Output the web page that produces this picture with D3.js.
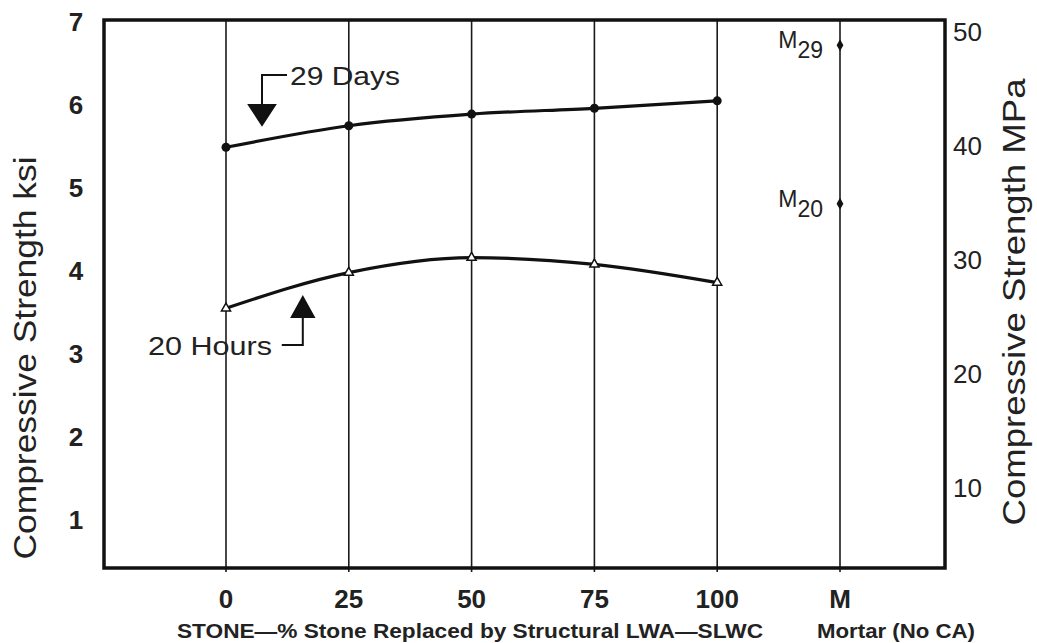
<!DOCTYPE html>
<html>
<head>
<meta charset="utf-8">
<script src="https://cdn.jsdelivr.net/npm/d3@7"></script>
<style>
  html, body { margin: 0; padding: 0; background: #fff; }
  svg { display: block; }
  text { font-family: "Liberation Sans", Arial, Helvetica, sans-serif; fill: #222; }
</style>
</head>
<body>
<svg id="chart" width="1037" height="643"></svg>
<script>
// ---- data ----
const categories = ["0", "25", "50", "75", "100", "M"];
const stoneCats = ["0", "25", "50", "75", "100"];
const days29 = [5.49, 5.75, 5.89, 5.96, 6.05];
const hours20 = [3.55, 3.98, 4.16, 4.08, 3.86];
const mortarLabels = ["29", "20"];
const mortarValues = [6.72, 4.81];
const ksiTicks = [1, 2, 3, 4, 5, 6, 7];
const mpaTicks = [10, 20, 30, 40, 50];

// ---- layout ----
const svg = d3.select("#chart");
const L = 104, R = 945, T = 20, B = 568;

const x = d3.scalePoint().domain(categories).range([L + 122, R - 105]);
const y = d3.scaleLinear().domain([0.42, 7.024]).range([B, T]);
const y2 = d3.scaleLinear().domain([2.98, 51.05]).range([B, T]);

// gridlines
svg.append("g").selectAll("line").data(categories).join("line")
  .attr("x1", d => x(d)).attr("x2", d => x(d))
  .attr("y1", T).attr("y2", B + 4)
  .attr("stroke", "#1a1a1a").attr("stroke-width", 1.6);

// frame
svg.append("rect").attr("x", L).attr("y", T).attr("width", R - L).attr("height", B - T)
  .attr("fill", "none").attr("stroke", "#111").attr("stroke-width", 3.5);

// left axis tick labels
svg.append("g").selectAll("text").data(ksiTicks).join("text")
  .attr("x", 76).attr("y", d => y(d)).attr("dy", "0.36em")
  .attr("text-anchor", "middle").attr("font-size", 26).attr("font-weight", "bold")
  .attr("fill", "#333").text(d => d);

// right axis tick labels
svg.append("g").selectAll("text").data(mpaTicks).join("text")
  .attr("x", 953).attr("y", d => y2(d)).attr("dy", "0.36em")
  .attr("text-anchor", "start").attr("font-size", 26)
  .attr("fill", "#333").text(d => d);

// bottom tick labels
svg.append("g").selectAll("text").data(categories).join("text")
  .attr("x", d => x(d)).attr("y", 608)
  .attr("text-anchor", "middle").attr("font-size", 26).attr("font-weight", "bold")
  .attr("fill", "#333").text(d => d);

// axis titles
svg.append("text")
  .attr("transform", `translate(36,358) rotate(-90)`)
  .attr("text-anchor", "middle").attr("font-size", 32).attr("fill", "#333")
  .attr("textLength", 403).attr("lengthAdjust", "spacingAndGlyphs")
  .text("Compressive Strength  ksi");
svg.append("text")
  .attr("transform", `translate(1025,302) rotate(-90)`)
  .attr("text-anchor", "middle").attr("font-size", 32).attr("fill", "#333")
  .attr("textLength", 447).attr("lengthAdjust", "spacingAndGlyphs")
  .text("Compressive Strength MPa");

svg.append("text").attr("x", 177).attr("y", 638)
  .attr("font-size", 20).attr("font-weight", "bold").attr("fill", "#333")
  .attr("textLength", 586).attr("lengthAdjust", "spacingAndGlyphs")
  .text("STONE\u2014% Stone Replaced by Structural LWA\u2014SLWC");
svg.append("text").attr("x", 817).attr("y", 638)
  .attr("font-size", 20).attr("font-weight", "bold").attr("fill", "#333")
  .attr("textLength", 158).attr("lengthAdjust", "spacingAndGlyphs")
  .text("Mortar (No CA)");

// lines
const line = d3.line().x(d => x(d.c)).y(d => y(d.v)).curve(d3.curveMonotoneX);
const s29 = stoneCats.map((c, i) => ({ c, v: days29[i] }));
const s20 = stoneCats.map((c, i) => ({ c, v: hours20[i] }));

svg.append("path").attr("d", line(s29)).attr("fill", "none")
  .attr("stroke", "#111").attr("stroke-width", 3.2);
svg.append("path").attr("d", line(s20)).attr("fill", "none")
  .attr("stroke", "#111").attr("stroke-width", 3.2);

svg.append("g").selectAll("circle").data(s29).join("circle")
  .attr("cx", d => x(d.c)).attr("cy", d => y(d.v)).attr("r", 4.5).attr("fill", "#111");
svg.append("g").selectAll("path").data(s20).join("path")
  .attr("transform", d => `translate(${x(d.c)},${y(d.v)})`)
  .attr("d", d3.symbol(d3.symbolTriangle, 36))
  .attr("fill", "#fff").attr("stroke", "#111").attr("stroke-width", 1.5);

// mortar points
const mort = mortarLabels.map((l, i) => ({ l, v: mortarValues[i] }));
svg.append("g").selectAll("path").data(mort).join("path")
  .attr("transform", d => `translate(${x("M")},${y(d.v)})`)
  .attr("d", d3.symbol(d3.symbolDiamond, 40)).attr("fill", "#111");
const mt = svg.append("g").selectAll("text").data(mort).join("text")
  .attr("x", x("M") - 17).attr("y", d => y(d.v) + 3)
  .attr("text-anchor", "end").attr("font-size", 23).attr("fill", "#333");
mt.append("tspan").text("M");
mt.append("tspan").attr("dy", 10).text(d => d.l);

// annotations
const g29x = x("0") + 36;
const ann = svg.append("g").attr("stroke", "#111").attr("stroke-width", 2).attr("fill", "none");
ann.append("path").attr("d", `M${g29x + 25},75 H${g29x} V108`);
ann.append("path").attr("d", `M${g29x - 13},105 L${g29x + 13},105 L${g29x},125 Z`).attr("fill", "#111");
svg.append("text").attr("x", 290).attr("y", 85).attr("font-size", 26).attr("fill", "#333")
  .attr("textLength", 110).attr("lengthAdjust", "spacingAndGlyphs").text("29 Days");

const h20x = x("25") - 46;
ann.append("path").attr("d", `M${h20x - 21},345 H${h20x} V314`);
ann.append("path").attr("d", `M${h20x - 11},317 L${h20x + 11},317 L${h20x},297 Z`).attr("fill", "#111");
svg.append("text").attr("x", 148).attr("y", 355)
  .attr("font-size", 26).attr("fill", "#333")
  .attr("textLength", 124).attr("lengthAdjust", "spacingAndGlyphs").text("20 Hours");
</script>
</body>
</html>
